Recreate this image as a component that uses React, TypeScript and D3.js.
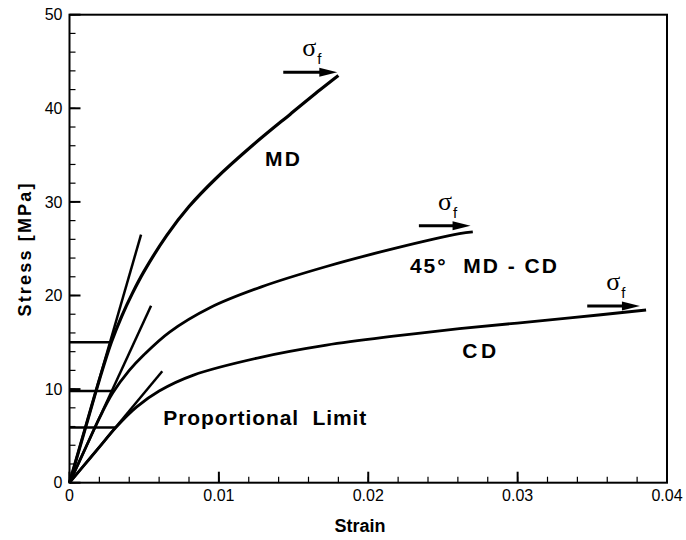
import React from 'react';
import * as d3 from 'd3';

// stress-strain curves
const mdStrain = [0, 0.001, 0.002, 0.0028, 0.0035, 0.0042, 0.005, 0.0065, 0.008, 0.0098, 0.0123, 0.0148, 0.0168, 0.018];
const mdStress = [0, 5.5, 11, 15.0, 17.8, 20.2, 22.6, 26.4, 29.5, 32.5, 36.1, 39.4, 42.0, 43.5];

const diagStrain = [0, 0.001, 0.002, 0.0029, 0.004, 0.005, 0.0067, 0.0094, 0.0128, 0.0172, 0.0217, 0.0261, 0.027];
const diagStress = [0, 3.45, 6.9, 9.6, 12.0, 13.7, 16.1, 18.7, 20.9, 23.1, 25.0, 26.6, 26.8];

const cdStrain = [0, 0.001, 0.002, 0.0031, 0.0045, 0.006, 0.0083, 0.0128, 0.0172, 0.0217, 0.0261, 0.0335, 0.0386];
const cdStress = [0, 1.9, 3.8, 5.9, 8.1, 9.8, 11.5, 13.4, 14.7, 15.65, 16.45, 17.6, 18.45];

// tangent (elastic) lines from the origin
const tangentStrain = [0.00479, 0.00546, 0.00621];
const tangentStress = [26.5, 18.9, 11.9];

// proportional limit markers
const limitStress = [15, 9.8, 5.9];
const limitStrain = [0.0028, 0.0028, 0.00305];

// failure arrows
const arrowStart = [0.01431, 0.02339, 0.03466];
const arrowEnd = [0.01793, 0.02685, 0.03819];
const arrowStress = [43.85, 27.46, 18.88];

// curve labels
const labelText = ['MD', '45°  MD - CD', 'CD', 'Proportional  Limit'];
const labelStrain = [0.01309, 0.02279, 0.02629, 0.00628];
const labelStress = [33.8, 22.37, 13.29, 6.16];
const labelWidth = [35, 147, 34, 203];

const xTicks = [0, 0.01, 0.02, 0.03, 0.04];
const xTickLabels = ['0', '0.01', '0.02', '0.03', '0.04'];
const yTicks = [0, 10, 20, 30, 40, 50];
const yTickLabels = ['0', '10', '20', '30', '40', '50'];

const W = 686;
const H = 540;
const left = 69.5, right = 667, top = 14.7, bottom = 482.7;
const font = '"Liberation Sans", Arial, Helvetica, sans-serif';

const App = () => {
  const x = d3.scaleLinear().domain([0, 0.04]).range([left, right]);
  const y = d3.scaleLinear().domain([0, 50]).range([bottom, top]);

  const line = d3.line<[number, number]>()
    .x(d => x(d[0]))
    .y(d => y(d[1]))
    .curve(d3.curveCatmullRom.alpha(0.5));

  const curves = [
    d3.zip(mdStrain, mdStress),
    d3.zip(diagStrain, diagStress),
    d3.zip(cdStrain, cdStress),
  ] as [number, number][][];

  const xMinor = d3.range(0, 0.0401, 0.002);
  const yMinor = d3.range(0, 50.1, 2);

  return (
    <svg width={W} height={H} style={{ position: 'absolute', left: 0, top: 0, background: '#fff' }}>
      {/* frame */}
      <rect x={left} y={top} width={right - left} height={bottom - top} fill="none" stroke="#000" strokeWidth={2} />

      {/* minor ticks */}
      {xMinor.map((t, i) => (
        <line key={'xm' + i} x1={x(t)} x2={x(t)} y1={bottom} y2={bottom - 6} stroke="#000" strokeWidth={1.2} />
      ))}
      {yMinor.map((t, i) => (
        <line key={'ym' + i} x1={left} x2={left + 6} y1={y(t)} y2={y(t)} stroke="#000" strokeWidth={1.2} />
      ))}
      {/* major ticks + labels */}
      {xTicks.map((t, i) => (
        <g key={'x' + i}>
          <line x1={x(t)} x2={x(t)} y1={bottom} y2={bottom - 11} stroke="#000" strokeWidth={2} />
          <text x={x(t)} y={bottom + 18} textAnchor="middle" fontFamily={font} fontSize={16}>{xTickLabels[i]}</text>
        </g>
      ))}
      {yTicks.map((t, i) => (
        <g key={'y' + i}>
          <line x1={left} x2={left + 11} y1={y(t)} y2={y(t)} stroke="#000" strokeWidth={2} />
          <text x={left - 7} y={y(t)} dy="0.36em" textAnchor="end" fontFamily={font} fontSize={16}>{yTickLabels[i]}</text>
        </g>
      ))}

      {/* axis titles */}
      <text x={360} y={532} textAnchor="middle" fontFamily={font} fontSize={18} fontWeight="bold">Strain</text>
      <text transform="translate(31,250) rotate(-90)" textAnchor="middle" fontFamily={font} fontSize={18}
        fontWeight="bold" textLength={133} lengthAdjust="spacing">Stress [MPa]</text>

      {/* proportional limit lines */}
      {limitStress.map((s, i) => (
        <line key={'pl' + i} x1={x(0)} x2={x(limitStrain[i])} y1={y(s)} y2={y(s)} stroke="#000" strokeWidth={2.5} />
      ))}

      {/* tangent lines */}
      {tangentStrain.map((s, i) => (
        <line key={'tg' + i} x1={x(0)} y1={y(0)} x2={x(s)} y2={y(tangentStress[i])} stroke="#000" strokeWidth={2.5} />
      ))}

      {/* curves */}
      {curves.map((c, i) => (
        <path key={'c' + i} d={line(c) || ''} fill="none" stroke="#000" strokeWidth={i === 0 ? 3.2 : 2.8} strokeLinejoin="round" />
      ))}

      {/* failure arrows */}
      {arrowStart.map((s, i) => {
        const x0 = x(s), x1 = x(arrowEnd[i]), yy = y(arrowStress[i]);
        return (
          <g key={'ar' + i}>
            <line x1={x0} x2={x1 - 14} y1={yy} y2={yy} stroke="#000" strokeWidth={3} />
            <path d={`M${x1 - 18},${yy - 4.5}L${x1},${yy}L${x1 - 18},${yy + 4.5}Z`} fill="#000" />
            <text x={x0 + 19} y={yy - 16} fontFamily='"Liberation Serif", "Times New Roman", serif' fontSize={26}>σ</text>
            <text x={x0 + 34} y={yy - 8} fontFamily={font} fontSize={15}>f</text>
          </g>
        );
      })}

      {/* labels */}
      {labelText.map((t, i) => (
        <text key={'lb' + i} x={x(labelStrain[i])} y={y(labelStress[i])} fontFamily={font} fontSize={21}
          fontWeight="bold" textLength={labelWidth[i]} lengthAdjust="spacing" style={{ whiteSpace: 'pre' }}>{t}</text>
      ))}
    </svg>
  );
};

export default App;
